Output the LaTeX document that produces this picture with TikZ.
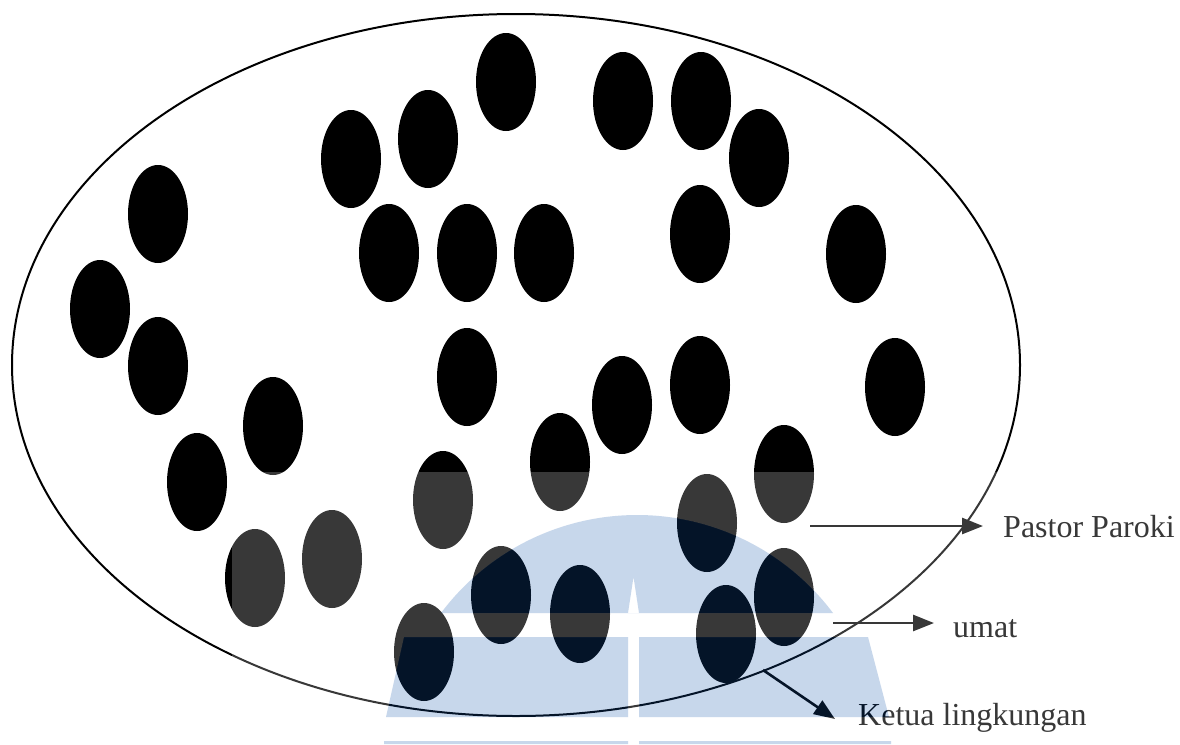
\documentclass[tikz,border=0pt]{standalone}
\usepackage{fontspec}
\setmainfont{Liberation Serif}
\usetikzlibrary{shapes.geometric,arrows.meta}
\begin{document}
\begin{tikzpicture}[x=1pt,y=-1pt,
  dot/.style={ellipse, fill=black, inner sep=0pt, minimum width=60pt, minimum height=98pt},
  lbl/.style={anchor=base west, inner sep=0pt, font=\fontsize{32}{38}\selectfont},
  arr/.style={line width=2.6pt, -{Triangle[length=21pt,width=16pt]}},
  rimline/.style={draw=black, line width=2pt}]
\useasboundingbox[fill=white] (0,0) rectangle (1180,744);
\definecolor{wmblue}{RGB}{21,85,170}
% outer ellipse
\node[ellipse, rimline, minimum width=1008pt, minimum height=702pt, inner sep=0pt] (rim) at (516,365) {};
% dots
\node[dot] (d1) at (506,82) {};
\node[dot] (d2) at (428,139) {};
\node[dot] (d3) at (351,159) {};
\node[dot] (d4) at (623,101) {};
\node[dot] (d5) at (701,101) {};
\node[dot] (d6) at (759,158) {};
\node[dot] (d7) at (158,214) {};
\node[dot] (d8) at (389,253) {};
\node[dot] (d9) at (467,253) {};
\node[dot] (d10) at (544,253) {};
\node[dot] (d11) at (700,234) {};
\node[dot] (d12) at (856,254) {};
\node[dot] (d13) at (100,309) {};
\node[dot] (d14) at (158,366) {};
\node[dot] (d15) at (467,377) {};
\node[dot] (d16) at (700,385) {};
\node[dot] (d17) at (622,405) {};
\node[dot] (d18) at (895,387) {};
\node[dot] (d19) at (273,426) {};
\node[dot] (d20) at (197,482) {};
\node[dot] (d21) at (560,462) {};
\node[dot] (d22) at (784,474) {};
\node[dot] (d23) at (443,500) {};
\node[dot] (d24) at (707,523) {};
\node[dot] (d25) at (332,559) {};
\node[dot] (d26) at (255,578) {};
\node[dot] (d27) at (501,595) {};
\node[dot] (d28) at (580,614) {};
\node[dot] (d29) at (784,597) {};
\node[dot] (d30) at (424,652) {};
\node[dot] (d31) at (726,634) {};
% labels and arrows
\node[lbl] (pastor) at (1003,537) {Pastor Paroki};
\node[lbl] (umat) at (953,637) {umat};
\node[lbl] (ketua) at (858,725) {Ketua lingkungan};
\coordinate (pS) at (810,526);
\coordinate (pE) at (983,526);
\coordinate (uS) at (833,623);
\coordinate (uE) at (934,623);
\coordinate (kS) at (763,670);
\coordinate (kE) at (835,719);
\draw[arr] (pS) -- (pE);
\draw[arr] (uS) -- (uE);
\draw[arr] (kS) -- (kE);
% watermark: light veil
\fill[white, fill opacity=0.22, even odd rule]
  (232,472) rectangle (1180,744)
  (833,613) arc[start angle=-36.87, end angle=-143.13, radius=245] -- cycle
  (633.5,577) -- (639,613) -- (628,613) -- cycle
  (404,637) -- (628,637) -- (628,717) -- (386,717) -- cycle
  (639,637) -- (868,637) -- (889,717) -- (639,717) -- cycle
  (384,741) rectangle (628,744)
  (639,741) rectangle (891,744);
% watermark: blue emblem
\fill[wmblue, fill opacity=0.235, even odd rule]
  (833,613) arc[start angle=-36.87, end angle=-143.13, radius=245] -- cycle
  (633.5,577) -- (639,613) -- (628,613) -- cycle
  (404,637) -- (628,637) -- (628,717) -- (386,717) -- cycle
  (639,637) -- (868,637) -- (889,717) -- (639,717) -- cycle
  (384,741) rectangle (628,744)
  (639,741) rectangle (891,744);
\end{tikzpicture}
\end{document}
